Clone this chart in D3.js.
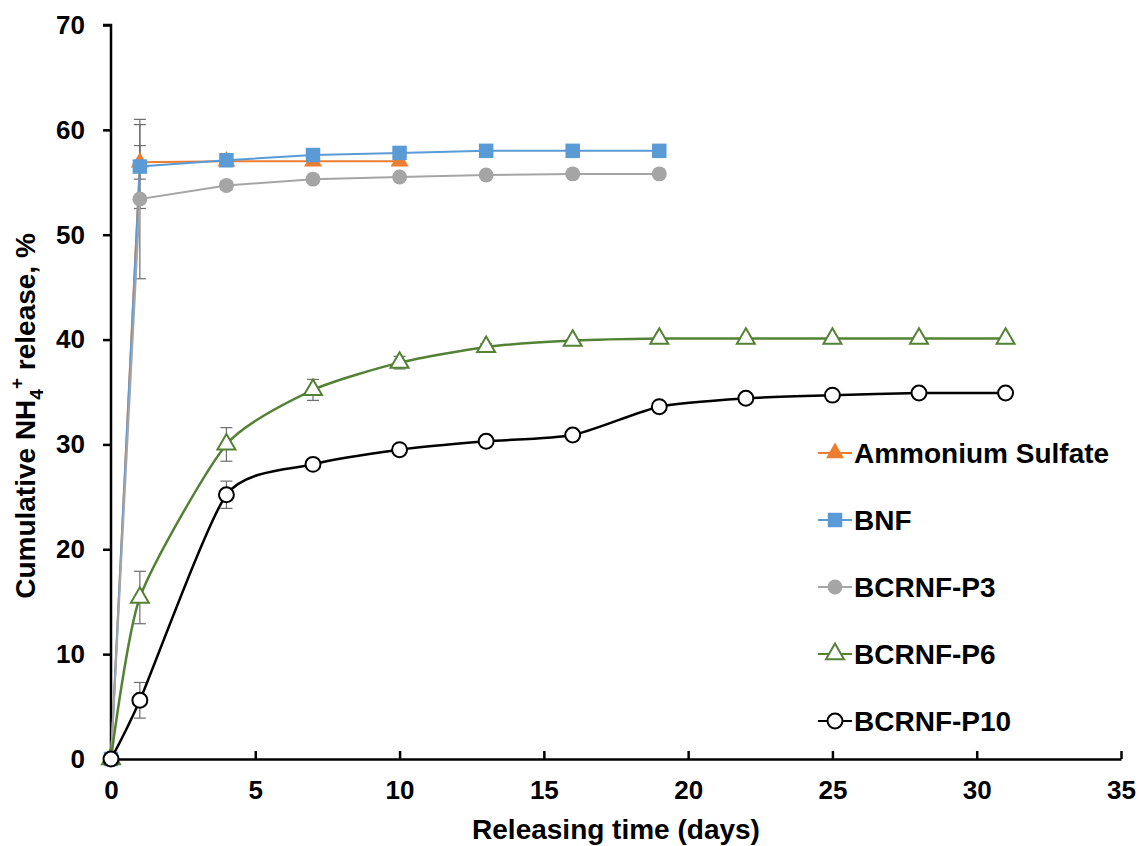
<!DOCTYPE html>
<html>
<head>
<meta charset="utf-8">
<script src="https://cdn.jsdelivr.net/npm/d3@7"></script>
<style>
  body { margin: 0; background: #fff; }
  text { font-family: "Liberation Sans", Arial, sans-serif; font-weight: bold; fill: #000; }
</style>
</head>
<body>
<svg id="chart" width="1139" height="846"></svg>
<script>
// data
const days = [0, 1, 4, 7, 10, 13, 16, 19, 22, 25, 28, 31];
const ammoniumSulfate = [0, 56.9, 57.0, 57.0, 57.0];
const bnf = [0, 56.5, 57.1, 57.6, 57.8, 58.0, 58.0, 58.0];
const bcrnfP3 = [0, 53.4, 54.7, 55.3, 55.5, 55.7, 55.8, 55.8];
const bcrnfP6 = [0, 15.4, 30.0, 35.2, 37.8, 39.3, 39.9, 40.1, 40.1, 40.1, 40.1, 40.1];
const bcrnfP10 = [0, 5.6, 25.2, 28.1, 29.5, 30.3, 30.9, 33.6, 34.4, 34.7, 34.9, 34.9];
// error bar half widths (only the first few points show them)
const errAS = [0, 1.6];
const errBNF = [0, 4.0];
const errP3 = [0, 7.6, 0.4];
const errP6 = [0, 2.5, 1.6, 1.0, 0.6, 0.3];
const errP10 = [0, 1.7, 1.3, 0.3];
const xTicks = [0, 5, 10, 15, 20, 25, 30, 35];
const yTicks = [0, 10, 20, 30, 40, 50, 60, 70];

const seriesList = [
  { name: "Ammonium Sulfate", values: ammoniumSulfate, err: errAS, color: "#ed7d31", symbol: "triangle", fill: true, smooth: false },
  { name: "BNF", values: bnf, err: errBNF, color: "#5b9bd5", symbol: "square", fill: true, smooth: false },
  { name: "BCRNF-P3", values: bcrnfP3, err: errP3, color: "#a5a5a5", symbol: "circle", fill: true, smooth: false },
  { name: "BCRNF-P6", values: bcrnfP6, err: errP6, color: "#548235", symbol: "triangle", fill: false, smooth: true },
  { name: "BCRNF-P10", values: bcrnfP10, err: errP10, color: "#000000", symbol: "circle", fill: false, smooth: true }
];

let svg = d3.select("#chart");
let margin = { left: 111, top: 25, right: 18, bottom: 87 };
let width = 1139 - margin.left - margin.right,
height = 846 - margin.top - margin.bottom;

let g = svg.append("g").attr("transform", "translate(" + margin.left + "," + margin.top + ")");

let x = d3.scaleLinear().domain([0, 35]).range([0, width]);
let y = d3.scaleLinear().domain([0, 70]).range([height, 0]);

// y axis, ticks outside
let yAxis = g.append("g").call(d3.axisLeft(y).tickValues(yTicks).tickSize(8).tickPadding(18));
yAxis.select(".domain").attr("stroke", "#000").attr("stroke-width", 2.5).attr("d", "M-8,0H0V" + height);
yAxis.selectAll(".tick line").attr("stroke-width", 2.5);
yAxis.selectAll(".tick text").style("font-size", "26px");

// x axis, ticks pointing up
let xAxis = g.append("g").attr("transform", "translate(0," + height + ")").
call(d3.axisBottom(x).tickValues(xTicks).tickSizeInner(-8).tickSizeOuter(0).tickPadding(22));
xAxis.select(".domain").attr("stroke", "#000").attr("stroke-width", 2.5);
xAxis.selectAll(".tick line").attr("stroke-width", 2.5);
xAxis.selectAll(".tick text").style("font-size", "26px");

// axis titles
g.append("text").
attr("x", width / 2).
attr("y", height + 80).
attr("text-anchor", "middle").
style("font-size", "28px").
text("Releasing time (days)");

let yTitle = g.append("text").
attr("transform", "translate(" + (-76) + "," + (391) + ") rotate(-90)").
attr("text-anchor", "middle").
style("font-size", "28px");
yTitle.append("tspan").text("Cumulative NH");
yTitle.append("tspan").attr("dy", 8).style("font-size", "19px").text("4");
yTitle.append("tspan").attr("dy", -20).style("font-size", "19px").text("+");
yTitle.append("tspan").attr("dy", 12).text(" release, %");

// error bars (grey, thin)
seriesList.forEach(s => {
  s.err.forEach((e, i) => {
    if (!e) return;
    let cx = x(days[i]), yt = y(s.values[i] + e), yb = y(s.values[i] - e);
    let eb = g.append("g").attr("stroke", "#6d6d6d").attr("stroke-width", 1.2);
    eb.append("line").attr("x1", cx).attr("x2", cx).attr("y1", yt).attr("y2", yb);
    eb.append("line").attr("x1", cx - 6).attr("x2", cx + 6).attr("y1", yt).attr("y2", yt);
    eb.append("line").attr("x1", cx - 6).attr("x2", cx + 6).attr("y1", yb).attr("y2", yb);
  });
});

function symbolPath(kind) {
  if (kind === "triangle") return d3.symbol(d3.symbolTriangle, 140)();
  if (kind === "square") return d3.symbol(d3.symbolSquare, 210)();
  return d3.symbol(d3.symbolCircle, 175)();
}

function drawMarker(sel, s) {
  sel.append("path").
  attr("d", symbolPath(s.symbol)).
  attr("fill", s.fill ? s.color : "#fff").
  attr("stroke", s.color).
  attr("stroke-width", s.fill ? 0 : 2);
}

// lines and markers
seriesList.forEach(s => {
  let pts = s.values.map((v, i) => [days[i], v]);
  let line = d3.line().
  x(d => x(d[0])).
  y(d => y(d[1])).
  curve(s.smooth ? d3.curveCardinal.tension(0.35) : d3.curveLinear);
  g.append("path").
  datum(pts).
  attr("fill", "none").
  attr("stroke", s.color).
  attr("stroke-width", s.smooth ? 2.5 : 2).
  attr("d", line);
  let marks = g.selectAll(null).
  data(pts).
  enter().append("g").
  attr("transform", d => "translate(" + x(d[0]) + "," + y(d[1]) + ")");
  drawMarker(marks, s);
});

// legend
let legend = g.append("g").attr("transform", "translate(" + (818 - margin.left) + "," + (453 - margin.top) + ")");
let legendItem = legend.selectAll("g").
data(seriesList).
enter().append("g").
attr("transform", (d, i) => "translate(0," + i * 67 + ")");
legendItem.append("line").
attr("x1", 0).attr("x2", 34).attr("y1", 0).attr("y2", 0).
attr("stroke", d => d.color).attr("stroke-width", 2);
legendItem.each(function (d) {
  let m = d3.select(this).append("g").attr("transform", "translate(17,0)");
  drawMarker(m, d);
});
legendItem.append("text").
attr("x", 36).
attr("y", 10).
style("font-size", "28px").
text(d => d.name);
</script>
</body>
</html>
